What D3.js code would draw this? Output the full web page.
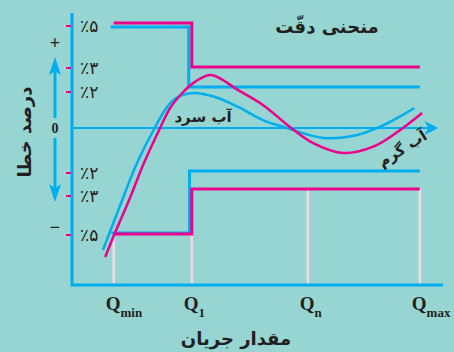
<!DOCTYPE html>
<html lang="fa">
<head>
<meta charset="UTF-8">
<title>منحنی دقت</title>
<script src="https://d3js.org/d3.v7.min.js"></script>
<style>
  html, body { margin: 0; padding: 0; background: #96d5d2; }
  svg { display: block; }
  .fa { font-family: 'DejaVu Sans', sans-serif; fill: #231f20; }
  .q { font-family: 'Liberation Serif', serif; font-weight: bold; fill: #231f20; }
</style>
</head>
<body>
<svg id="chart" width="454" height="352"></svg>
<script>
// error ticks on the vertical axis (percent)
const errTicks = [5, 3, 2, -2, -3, -5];
const errLabels = ["٪۵", "٪۳", "٪۲", "٪۲", "٪۳", "٪۵"];

// flow rates on the horizontal axis
const qValues = [1.0, 2.01, 3.51, 4.96];
const qSubs = ["min", "1", "n", "max"];

// tolerance limits [flow, error %]
const hotUpper = [[1.0, 5.14], [2.01, 5.14], [2.01, 3.05], [4.96, 3.05]];
const coldUpper = [[0.96, 4.95], [1.97, 4.95], [1.97, 2.21], [4.96, 2.21]];
const coldLower = [[0.97, -4.9], [1.98, -4.9], [1.98, -1.91], [4.96, -1.91]];
const hotLower = [[1.0, -4.95], [2.01, -4.95], [2.01, -2.7], [4.96, -2.7]];

// measured error curves [flow, error %]
const coldCurve = [
  [0.86, -5.77], [0.95, -4.85], [1.12, -3.10], [1.29, -1.64], [1.53, 0],
  [1.68, 1.11], [1.81, 1.67], [2.03, 1.94], [2.31, 1.72], [2.61, 1.17],
  [2.93, 0.44], [3.24, 0], [3.71, -0.44], [4.15, -0.31], [4.41, 0],
  [4.67, 0.56], [4.89, 1.11]
];
const hotCurve = [
  [0.89, -6.13], [1.02, -4.85], [1.21, -3.10], [1.38, -1.64], [1.60, 0],
  [1.73, 1.11], [1.90, 2.0], [2.05, 2.42], [2.26, 2.71], [2.61, 2.08],
  [2.93, 1.28], [3.28, 0.06], [3.58, -0.67], [3.97, -1.11], [4.35, -0.84],
  [4.67, -0.18], [4.99, 0.83]
];

const blue = "#00aeef";
const magenta = "#ec008c";
const pink = "#f3d9e4";

const plotLeft = 72, plotRight = 443, plotTop = 13, plotBottom = 285;

const svg = d3.select("#chart");

const x = d3.scaleLinear().domain([0.46, 5.26]).range([plotLeft, plotRight]);
// the original drawing is schematic, so the error axis is piecewise
const y = d3.scaleLinear()
  .domain([-5, -3, -2, 0, 2, 3, 5])
  .range([235, 196, 173, 128, 92, 68, 26]);

const line = d3.line().x(d => x(d[0])).y(d => y(d[1]));
const smooth = d3.line().x(d => x(d[0])).y(d => y(d[1])).curve(d3.curveCatmullRom.alpha(0.5));

// light vertical guides under the lower limits
const guideTop = [hotLower[0][1], hotLower[1][1], hotLower[3][1], hotLower[3][1]];
svg.selectAll(".guide")
  .data(qValues)
  .enter().append("line")
  .attr("x1", d => x(d)).attr("x2", d => x(d))
  .attr("y1", (d, i) => y(guideTop[i])).attr("y2", plotBottom)
  .attr("stroke", pink).attr("stroke-width", 2.5);

// zero line with arrow
const zeroEnd = x(5.2);
svg.append("line")
  .attr("x1", plotLeft).attr("x2", zeroEnd - 6)
  .attr("y1", y(0)).attr("y2", y(0))
  .attr("stroke", blue).attr("stroke-width", 2);
svg.append("path")
  .attr("d", `M${zeroEnd},${y(0)} l-14,-7 l4,7 l-4,7 z`)
  .attr("fill", blue);

// frame
svg.append("path")
  .attr("d", `M${plotLeft},${plotTop} V${plotBottom} H${plotRight}`)
  .attr("fill", "none").attr("stroke", blue).attr("stroke-width", 3);

// tick marks and labels
svg.selectAll(".tick")
  .data(errTicks)
  .enter().append("line")
  .attr("x1", 66).attr("x2", 71)
  .attr("y1", d => y(d)).attr("y2", d => y(d))
  .attr("stroke", magenta).attr("stroke-width", 2);

svg.selectAll(".tlabel")
  .data(errTicks)
  .enter().append("text")
  .attr("class", "fa")
  .attr("x", 80).attr("y", d => y(d) + 6)
  .attr("font-size", 17)
  .text((d, i) => errLabels[i]);

// limits
[[hotUpper, magenta], [coldUpper, blue], [coldLower, blue], [hotLower, magenta]].forEach(([data, c]) => {
  svg.append("path").attr("d", line(data))
    .attr("fill", "none").attr("stroke", c).attr("stroke-width", 3);
});

// curves
svg.append("path").attr("d", smooth(coldCurve))
  .attr("fill", "none").attr("stroke", blue).attr("stroke-width", 2.5);
svg.append("path").attr("d", smooth(hotCurve))
  .attr("fill", "none").attr("stroke", magenta).attr("stroke-width", 2.5);

// left sign arrows
svg.append("line").attr("x1", 55).attr("x2", 55).attr("y1", 70).attr("y2", 118)
  .attr("stroke", blue).attr("stroke-width", 3);
svg.append("path").attr("d", "M55,57 l-6,18 l6,-4 l6,4 z").attr("fill", blue);
svg.append("line").attr("x1", 55).attr("x2", 55).attr("y1", 138).attr("y2", 189)
  .attr("stroke", blue).attr("stroke-width", 3);
svg.append("path").attr("d", "M55,202 l-6,-18 l6,4 l6,-4 z").attr("fill", blue);

svg.append("text").attr("class", "q").attr("x", 55).attr("y", 133)
  .attr("text-anchor", "middle").attr("font-size", 14).text("0");
svg.append("text").attr("class", "q").attr("x", 55).attr("y", 49)
  .attr("text-anchor", "middle").attr("font-size", 18).text("+");
svg.append("text").attr("class", "q").attr("x", 55).attr("y", 233)
  .attr("text-anchor", "middle").attr("font-size", 18).text("−");

// Q labels
const ql = svg.selectAll(".qlabel")
  .data(qValues)
  .enter().append("text")
  .attr("class", "q")
  .attr("x", d => x(d) - 8).attr("y", 310);
ql.append("tspan").attr("font-size", 19).text("Q");
ql.append("tspan").attr("font-size", 13).attr("dy", 7).text((d, i) => qSubs[i]);

// titles
svg.append("text").attr("class", "fa").attr("x", 327).attr("y", 33)
  .attr("text-anchor", "middle").attr("font-size", 18).attr("font-weight", "bold")
  .text("منحنی دقّت");
svg.append("text").attr("class", "fa").attr("x", 236).attr("y", 345)
  .attr("text-anchor", "middle").attr("font-size", 18).attr("font-weight", "bold")
  .text("مقدار جریان");
svg.append("text").attr("class", "fa")
  .attr("transform", "translate(31,132) rotate(-90)")
  .attr("text-anchor", "middle").attr("font-size", 18).attr("font-weight", "bold")
  .text("درصد خطا");

// series labels
svg.append("text").attr("class", "fa").attr("x", 203).attr("y", 122)
  .attr("text-anchor", "middle").attr("font-size", 15).attr("font-weight", "bold")
  .text("آب سرد");
svg.append("text").attr("class", "fa")
  .attr("transform", "translate(405,153) rotate(-32)")
  .attr("text-anchor", "middle").attr("font-size", 15).attr("font-weight", "bold")
  .text("آب گرم");
</script>
</body>
</html>
